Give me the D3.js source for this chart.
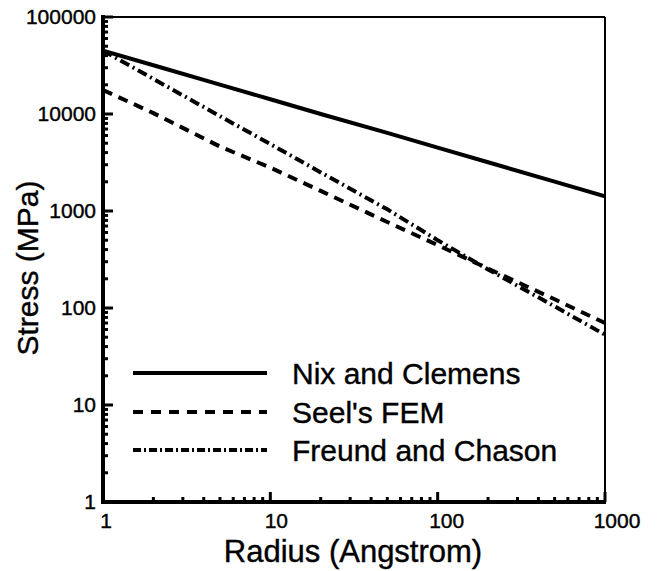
<!DOCTYPE html>
<html>
<head>
  <meta charset="utf-8">
  <title>Stress vs Radius</title>
  <script src="https://d3js.org/d3.v7.min.js"></script>
  <style>
    body { margin: 0; background: #fff; font-family: "Liberation Sans", Arial, sans-serif; }
    text { fill: #000; stroke: #000; stroke-width: 0.4px; }
  </style>
</head>
<body>
  <div id="chart"></div>
  <script>
    // radius values (Angstrom) shared by all series
    const radius = [1, 2, 5, 10, 20, 50, 100, 200, 500, 1000];
    // stress (MPa)
    const nixClemens = [45000, 31800, 20100, 14200, 10000, 6400, 4500, 3180, 2010, 1420];
    const seelFEM = [17700, 10200, 4620, 2800, 1610, 770, 445, 255, 123, 70];
    const freundChason = [45000, 23000, 9500, 4900, 2500, 1040, 500, 250, 104, 53];

    const seriesNames = ["Nix and Clemens", "Seel's FEM", "Freund and Chason"];
    const xTickLabels = ["1", "10", "100", "1000"];
    const yTickLabels = ["1", "10", "100", "1000", "10000", "100000"];

    const width = 662, height = 571;
    const plotL = 103, plotR = 605, plotT = 17, plotB = 502;

    const svg = d3.select("#chart").append("svg")
      .attr("width", width)
      .attr("height", height);

    const x = d3.scaleLog().domain([1, 1000]).range([plotL, plotR]);
    const y = d3.scaleLog().domain([1, 100000]).range([plotB, plotT]);

    const dashes = [null, "10,7", "10,4,2,4"];
    const series = [nixClemens, seelFEM, freundChason];

    svg.append("clipPath").attr("id", "plot")
      .append("rect")
      .attr("x", plotL).attr("y", plotT)
      .attr("width", plotR - plotL).attr("height", plotB - plotT);

    const line = d3.line()
      .x((d, i) => x(radius[i]))
      .y(d => y(d));

    // curves
    series.forEach((s, i) => {
      svg.append("path")
        .datum(s)
        .attr("clip-path", "url(#plot)")
        .attr("fill", "none")
        .attr("stroke", "#000")
        .attr("stroke-width", 4)
        .attr("stroke-dasharray", dashes[i])
        .attr("d", line);
    });

    // frame: thin top/right, thick left/bottom
    svg.append("line").attr("x1", plotL).attr("x2", plotR).attr("y1", plotT).attr("y2", plotT)
      .attr("stroke", "#000").attr("stroke-width", 2);
    svg.append("line").attr("x1", plotR).attr("x2", plotR).attr("y1", plotT).attr("y2", plotB)
      .attr("stroke", "#000").attr("stroke-width", 2);
    svg.append("line").attr("x1", plotL).attr("x2", plotL).attr("y1", plotT - 2).attr("y2", plotB + 2)
      .attr("stroke", "#000").attr("stroke-width", 4);
    svg.append("line").attr("x1", plotL - 2).attr("x2", plotR + 1).attr("y1", plotB).attr("y2", plotB)
      .attr("stroke", "#000").attr("stroke-width", 4);

    const isMajor = v => Math.abs(Math.log10(v) - Math.round(Math.log10(v))) < 1e-9;

    // inward ticks on the left axis
    y.ticks().forEach(v => {
      const len = isMajor(v) ? 10 : 5;
      svg.append("line")
        .attr("x1", plotL).attr("x2", plotL + len)
        .attr("y1", y(v)).attr("y2", y(v))
        .attr("stroke", "#000").attr("stroke-width", 3);
    });

    // inward ticks on the bottom axis
    x.ticks().forEach(v => {
      const len = isMajor(v) ? 10 : 5;
      svg.append("line")
        .attr("x1", x(v)).attr("x2", x(v))
        .attr("y1", plotB).attr("y2", plotB - len)
        .attr("stroke", "#000").attr("stroke-width", 3);
    });

    // tick labels
    svg.selectAll(".ylab")
      .data(yTickLabels)
      .join("text")
      .attr("x", plotL - 7)
      .attr("y", d => y(+d))
      .attr("dy", "0.35em")
      .attr("text-anchor", "end")
      .style("font-size", "21px")
      .text(d => d);

    svg.selectAll(".xlab")
      .data(xTickLabels)
      .join("text")
      .attr("x", d => x(+d) + 3 * d.length)
      .attr("y", 528)
      .attr("text-anchor", "middle")
      .style("font-size", "21px")
      .text(d => d);

    // axis titles
    svg.append("text")
      .attr("x", 353)
      .attr("y", 562)
      .attr("text-anchor", "middle")
      .style("font-size", "31px")
      .text("Radius (Angstrom)");

    svg.append("text")
      .attr("transform", "translate(38,268) rotate(-90)")
      .attr("text-anchor", "middle")
      .style("font-size", "30px")
      .text("Stress (MPa)");

    // legend
    const legendDash = [null, "10,8", "8,3,2,3"];
    const legendY = [373, 412, 450];
    seriesNames.forEach((name, i) => {
      svg.append("line")
        .attr("x1", 133).attr("x2", 267)
        .attr("y1", legendY[i]).attr("y2", legendY[i])
        .attr("stroke", "#000")
        .attr("stroke-width", 4)
        .attr("stroke-dasharray", legendDash[i]);
      svg.append("text")
        .attr("x", 292)
        .attr("y", legendY[i])
        .attr("dy", "0.36em")
        .style("font-size", "30px")
        .text(name);
    });
  </script>
</body>
</html>
